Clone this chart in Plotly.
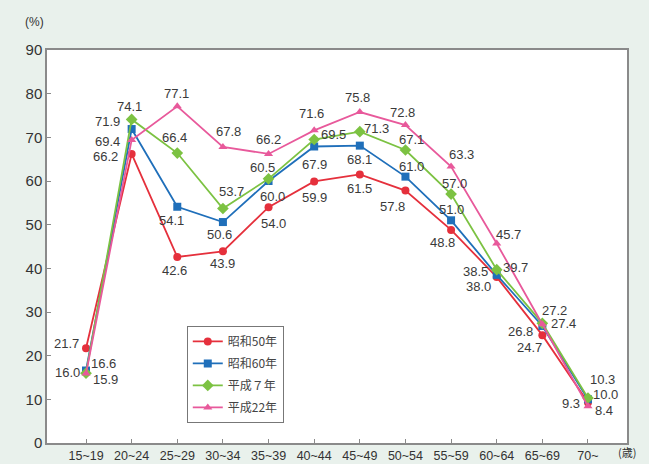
import plotly.graph_objects as go

# Age groups (x categories)
ages = ["15~19", "20~24", "25~29", "30~34", "35~39", "40~44",
        "45~49", "50~54", "55~59", "60~64", "65~69", "70~"]

# Labour force participation rate (%) by survey year
s50 = [21.7, 66.2, 42.6, 43.9, 54.0, 59.9, 61.5, 57.8, 48.8, 38.0, 24.7, 9.3]
s60 = [16.6, 71.9, 54.1, 50.6, 60.0, 67.9, 68.1, 61.0, 51.0, 38.5, 26.8, 10.0]
h07 = [16.0, 74.1, 66.4, 53.7, 60.5, 69.5, 71.3, 67.1, 57.0, 39.7, 27.4, 10.3]
h22 = [15.9, 69.4, 77.1, 67.8, 66.2, 71.6, 75.8, 72.8, 63.3, 45.7, 27.2, 8.4]

names = ["昭和50年", "昭和60年", "平成７年", "平成22年"]
colors = ["#e5303c", "#1f6fba", "#7cc242", "#e8599b"]
symbols = ["circle", "square", "diamond", "triangle-up"]

# Pixel offsets (dx, dy; dy positive = downward) of each value label from its marker
offsets = [
    [(-20, -5), (-26, 3), (-3, 14), (0, 12), (5, 16), (0, 16), (0, 14),
     (-13, 16), (-9, 13), (-18, 9), (-13, 12), (-17, 1)],
    [(17, -7), (-24, -8), (-6, 14), (-3, 12), (4, 15), (0, 18), (0, 14),
     (6, -10), (0, -11), (-21, -3), (-22, 6), (18, -5)],
    [(-19, -1), (-2, -13), (-3, -16), (9, -17), (-6, -11), (19, -5), (17, -3),
     (6, -11), (3, -11), (19, -2), (21, 0), (15, -19)],
    [(19, 6), (-24, 2), (-1, -13), (6, -15), (0, -14), (-3, -17), (-2, -15),
     (-3, -13), (10, -12), (12, -9), (12, -14), (16, 4)],
]

series = [s50, s60, h07, h22]
xi = list(range(len(ages)))

fig = go.Figure()
annotations = []
for k, (vals, name, col, sym) in enumerate(zip(series, names, colors, symbols)):
    fig.add_trace(go.Scatter(
        x=xi, y=vals, name=name, mode="lines+markers",
        legendgroup=name,
        line=dict(color=col, width=1.8),
        marker=dict(color=col, symbol=sym, size=8 if sym != "diamond" else 9),
    ))
    for i, v in enumerate(vals):
        dx, dy = offsets[k][i]
        annotations.append(dict(
            x=i, y=v, xref="x", yref="y", text=f"{v:.1f}", showarrow=False,
            xshift=dx, yshift=-dy,
            font=dict(size=13, color="#3a3a3a", family="Liberation Sans, Arial, sans-serif"),
        ))

annotations.append(dict(
    x=-0.022, y=1.071, xref="paper", yref="paper", text="(%)", showarrow=False,
    xanchor="center", yanchor="middle",
    font=dict(size=12, color="#333333", family="Liberation Sans, Arial, sans-serif"),
))
annotations.append(dict(
    x=1.0, y=-0.023, xref="paper", yref="paper", text="(歳)", showarrow=False,
    xanchor="center", yanchor="middle",
    font=dict(size=11, color="#333333", family="Noto Sans CJK JP, sans-serif"),
))

fig.update_layout(
    width=649, height=464,
    margin=dict(l=47, r=22, t=50, b=21),
    paper_bgcolor="#e9f1ec",
    plot_bgcolor="#ffffff",
    showlegend=True,
    legend=dict(
        x=0.241, y=0.298, xanchor="left", yanchor="top",
        bgcolor="#ffffff", bordercolor="#777777", borderwidth=1,
        font=dict(size=12, color="#444444", family="Noto Sans CJK JP, sans-serif"),
        tracegroupgap=3, itemwidth=30,
    ),
    annotations=annotations,
    font=dict(family="Liberation Sans, Arial, sans-serif", color="#333333"),
)

fig.update_xaxes(
    range=[-0.855, 11.855], tickmode="array", tickvals=xi, ticktext=ages,
    showgrid=False, zeroline=False, showline=True, mirror=True,
    linecolor="#8a8a8a", linewidth=1.5, ticks="inside", ticklen=4,
    tickcolor="#8a8a8a", tickfont=dict(size=12.5, color="#333333"),
    automargin=False,
)
fig.update_yaxes(
    range=[0, 90], tickvals=list(range(0, 91, 10)),
    showgrid=False, zeroline=False, showline=True, mirror=True,
    linecolor="#8a8a8a", linewidth=1.5, ticks="inside", ticklen=4,
    tickcolor="#8a8a8a", tickfont=dict(size=15, color="#333333"),
    automargin=False,
)

fig.write_html("out.html")
